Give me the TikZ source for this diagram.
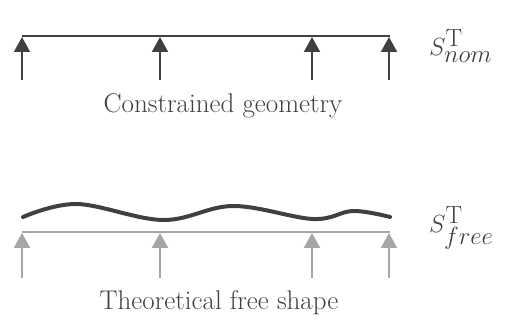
\documentclass[tikz,border=0pt]{standalone}
\usepackage{amsmath}
\usetikzlibrary{arrows.meta,positioning}
\definecolor{nomgray}{HTML}{404040}
\definecolor{freegray}{HTML}{A6A6A6}

\begin{document}
\begin{tikzpicture}[x=1pt,y=-1pt,
    sup/.style={-{Triangle[length=15pt,width=16pt]},line width=2pt},
    lbl/.style={font=\fontsize{27}{32}\selectfont,text=nomgray},
    sym/.style={font=\fontsize{44}{50}\selectfont,text=nomgray,anchor=west,inner sep=0pt}]
  \useasboundingbox (0,0) rectangle (509,320);

  % ================= nominal (constrained) =================
  \coordinate (nL) at (22,36);
  \coordinate (nR) at (390,36);
  \draw[nomgray,line width=2pt] (nL) -- (nR);
  \foreach \i/\x in {1/22,2/160,3/312,4/389} {
    \coordinate (nb\i) at (\x,80);
    \coordinate (nt\i) at (\x,37);
    \draw[sup,nomgray] (nb\i) -- (nt\i);
  }
  \node[lbl] (nomtext) at (223,106) {Constrained geometry};
  \node[sym] (nomsym) at (429,46) {$S^{\mathrm{T}}_{nom}$};

  % ================= free shape =================
  \draw[nomgray,line width=4pt,line cap=round]
    plot[smooth,tension=0.6] coordinates
    {(23,217) (77,204) (163,220) (233,206) (313,219) (353,211) (390,217)};
  \coordinate (fL) at (22,232);
  \coordinate (fR) at (390,232);
  \draw[freegray,line width=2pt] (fL) -- (fR);
  \foreach \i/\x in {1/22,2/160,3/312,4/389} {
    \coordinate (fb\i) at (\x,278);
    \coordinate (ft\i) at (\x,233);
    \draw[sup,freegray] (fb\i) -- (ft\i);
  }
  \node[lbl] (freetext) at (219,303) {Theoretical free shape};
  \node[sym] (freesym) at (429,228) {$S^{\mathrm{T}}_{free}$};
\end{tikzpicture}
\end{document}
